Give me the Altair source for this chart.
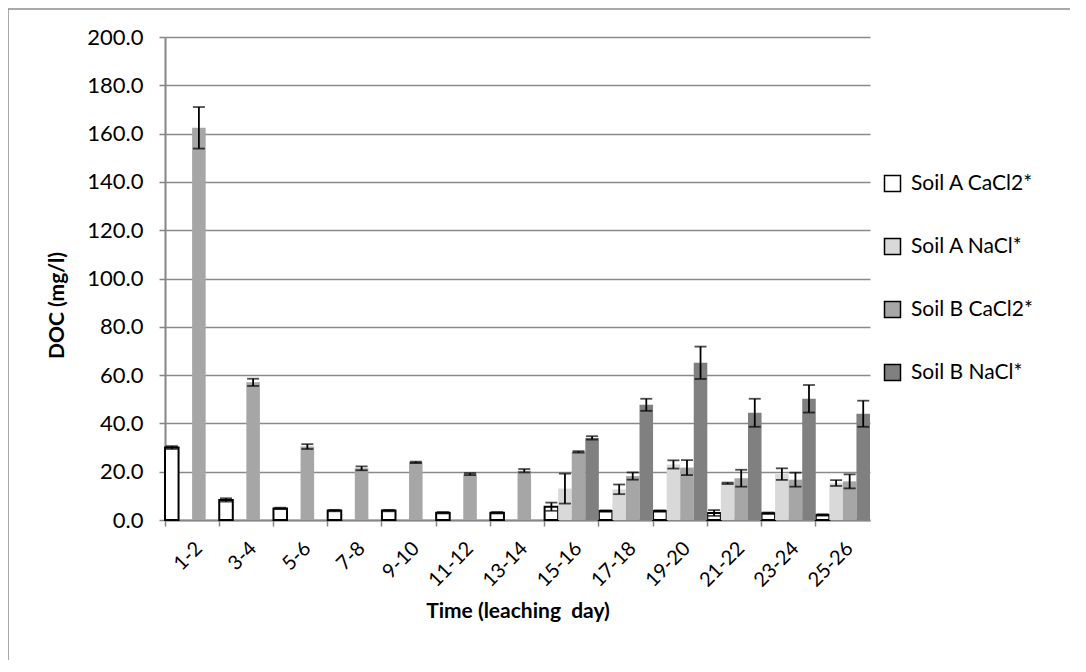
import altair as alt
import pandas as pd

days = ["1-2", "3-4", "5-6", "7-8", "9-10", "11-12", "13-14",
        "15-16", "17-18", "19-20", "21-22", "23-24", "25-26"]
series = ["Soil A CaCl2*", "Soil A NaCl*", "Soil B CaCl2*", "Soil B NaCl*"]
colors = ["#FFFFFF", "#D9D9D9", "#A6A6A6", "#808080"]

a_cacl2 = [30.0, 8.3, 4.8, 3.9, 3.9, 3.0, 3.0, 5.5, 3.7, 3.7, 2.9, 2.8, 2.1]
a_cacl2_err = [0.6, 0.7, 0.3, 0.3, 0.3, 0.3, 0.3, 1.7, 0.3, 0.3, 1.2, 0.3, 0.3]
a_nacl = [None, None, None, None, None, None, None, 13.0, 12.7, 23.0, 15.2, 19.0, 15.3]
a_nacl_err = [None, None, None, None, None, None, None, 6.2, 2.0, 1.7, 0.3, 2.4, 1.2]
b_cacl2 = [162.4, 57.0, 30.4, 21.4, 23.9, 19.0, 20.4, 28.2, 18.2, 21.7, 17.3, 16.7, 16.0]
b_cacl2_err = [8.6, 1.5, 1.0, 0.8, 0.3, 0.4, 0.7, 0.3, 1.5, 3.1, 3.5, 2.9, 2.9]
b_nacl = [None, None, None, None, None, None, None, 34.0, 47.7, 65.1, 44.4, 50.2, 44.0]
b_nacl_err = [None, None, None, None, None, None, None, 0.7, 2.5, 6.7, 5.8, 5.7, 5.4]

rows = []
for name, vals, errs in zip(series, [a_cacl2, a_nacl, b_cacl2, b_nacl],
                            [a_cacl2_err, a_nacl_err, b_cacl2_err, b_nacl_err]):
    for d, v, e in zip(days, vals, errs):
        if v is None:
            continue
        rows.append({"day": d, "series": name, "value": v,
                     "lo": v - e, "hi": v + e})
df = pd.DataFrame(rows)

FONT = "Lato"

x_enc = alt.X("day:N", sort=days,
              scale=alt.Scale(domain=days, paddingInner=0, paddingOuter=0),
              axis=alt.Axis(title="Time (leaching \u00a0day)", labelAngle=-45,
                            labelFontSize=20, labelFont=FONT, labelColor="#000000",
                            labelPadding=12, titleFont=FONT, titleFontSize=21,
                            titleFontWeight="bold", titleColor="#000000",
                            titlePadding=10, bandPosition=0, tickColor="#868686",
                            tickSize=6, tickWidth=1.5, domainColor="#868686",
                            domainWidth=2, grid=False))
xoff = alt.XOffset("series:N", scale=alt.Scale(domain=series, paddingInner=0, paddingOuter=0))

bars = alt.Chart(df).mark_bar(stroke="#000000", strokeWidth=2).encode(
    x=x_enc,
    xOffset=xoff,
    y=alt.Y("value:Q", scale=alt.Scale(domain=[0, 200]),
            axis=alt.Axis(title="DOC (mg/l)", values=list(range(0, 201, 20)),
                          format=".1f", labelFontSize=22, labelFont=FONT,
                          labelColor="#000000", labelPadding=16,
                          titleFont=FONT, titleFontSize=21, titleFontWeight="bold",
                          titleColor="#000000", titleX=-98, titleY=268,
                          gridColor="#8a8a8a", gridWidth=1.5,
                          tickColor="#868686", tickSize=6, tickWidth=1.5,
                          domainColor="#868686", domainWidth=2)),
    fill=alt.Fill("series:N", scale=alt.Scale(domain=series, range=colors),
                  legend=alt.Legend(title=None, orient="none", legendX=717, legendY=136,
                                    symbolType="square", symbolSize=256,
                                    symbolStrokeWidth=1.5, labelFontSize=21,
                                    labelFont=FONT, labelColor="#000000",
                                    rowPadding=40, labelOffset=8)),
    strokeOpacity=alt.condition(alt.datum.series == "Soil A CaCl2*", alt.value(1), alt.value(0)),
)

err = alt.Chart(df).mark_rule(color="#000000", strokeWidth=1.8).encode(
    x=alt.X("day:N", sort=days), xOffset=xoff, y="lo:Q", y2="hi:Q")
cap_lo = alt.Chart(df).mark_tick(color="#000000", thickness=1.8, size=12, orient="horizontal").encode(
    x=alt.X("day:N", sort=days), xOffset=xoff, y="lo:Q")
cap_hi = alt.Chart(df).mark_tick(color="#000000", thickness=1.8, size=12, orient="horizontal").encode(
    x=alt.X("day:N", sort=days), xOffset=xoff, y="hi:Q")

frame_left = alt.Chart(pd.DataFrame({"a": [0]})).mark_rule(color="#8c8c8c", strokeWidth=1.5).encode(
    x=alt.value(-157), y=alt.value(-28), y2=alt.value(640))
frame_top = alt.Chart(pd.DataFrame({"a": [0]})).mark_rule(color="#8c8c8c", strokeWidth=1.5).encode(
    x=alt.value(-157), x2=alt.value(925), y=alt.value(-28))

chart = alt.layer(bars, err, cap_lo, cap_hi, frame_left, frame_top).properties(
    width=705, height=483,
    autosize=alt.AutoSizeParams(type="none"),
    padding={"left": 157, "top": 29, "right": 200, "bottom": 140},
    background="#FFFFFF",
).configure_view(stroke=None)

chart.save("out.html", embed_options={"renderer": "svg", "actions": False})
